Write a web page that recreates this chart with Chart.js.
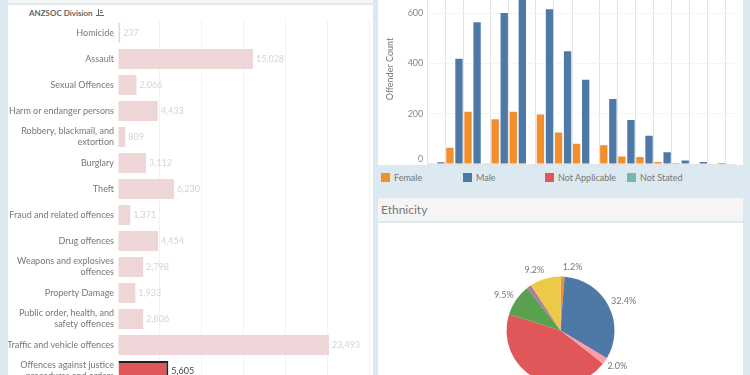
<!DOCTYPE html>
<html>
<head>
<meta charset="utf-8">
<script src="https://cdn.jsdelivr.net/npm/chart.js@4"></script>
<style>
  html, body { margin: 0; width: 750px; height: 375px; overflow: hidden; background: #dde9f0; font-family: Lato, sans-serif; }
  .box { position: absolute; }
  canvas { position: absolute; display: block; }
  #strip { left: 8px; top: 0; width: 365px; height: 3px; background: #f5f5f5; }
  #leftPanel { left: 8px; top: 5px; width: 365px; height: 370px; background: #fff; }
  #rightPanel { left: 378px; top: 0; width: 365px; height: 165px; background: #fff; }
  #piePanel { left: 378px; top: 223px; width: 365px; height: 152px; background: #fff; }
  #pieHead { left: 378px; top: 198px; width: 365px; height: 23px; background: #f5f5f5; color: #777; font-size: 12px; line-height: 23px; text-indent: 3px; }
  #divTitle { left: 29px; top: 7px; font-size: 8px; font-weight: 700; color: #666; line-height: 13px; }
  #sortIcon { left: 96px; top: 9px; }
  .swatch { position: absolute; top: 173px; width: 9px; height: 9px; }
  .legendText { position: absolute; top: 170px; font-size: 9px; line-height: 15px; color: #777; }
</style>
</head>
<body>
<div class="box" id="strip"></div>
<div class="box" id="leftPanel"></div>
<div class="box" id="rightPanel"></div>
<div class="box" id="pieHead">Ethnicity</div>
<div class="box" id="piePanel"></div>
<div class="box" id="divTitle">ANZSOC Division</div>
<svg class="box" id="sortIcon" width="8" height="8"><path d="M2 0h1v7h-1zM4 1h2v1h-2zM4 3h3v1h-3zM0 6h8v1h-8z" fill="#666"/></svg>
<canvas id="divisions" width="365" height="364" style="left:8px;top:20px"></canvas>
<canvas id="offenders" width="365" height="191" style="left:378px;top:-26px"></canvas>
<canvas id="ethnicity" width="365" height="215" style="left:378px;top:223px"></canvas>
<div id="legend"></div>

<script>
const FONT = "Lato, sans-serif";

// ANZSOC divisions
const divisionLabels = [
  "Homicide", "Assault", "Sexual Offences", "Harm or endanger persons",
  ["Robbery, blackmail, and", "extortion"], "Burglary", "Theft",
  "Fraud and related offences", "Drug offences",
  ["Weapons and explosives", "offences"], "Property Damage",
  ["Public order, health, and", "safety offences"], "Traffic and vehicle offences",
  ["Offences against justice", "procedures and orders"]
];
const divisionValues = [237, 15028, 2066, 4433, 809, 3112, 6230, 1371, 4454, 2798, 1933, 2806, 23493, 5605];
const selectedDivision = 13;

// offender count, one bar slot each, slots grouped per pane
const slotGroups = [1,1, 2,2, 3,3,3, 4,4, 5,5,5, 6,6, 7,7, 8,8,8, 9,9, 10,10, 11,11, 12,12, 13,13, 14,14, 15,15, 16];
const femaleValues = [1,null, 65,null, 208,null,null, 178,null, 208,null,null, 197,null, 125,null, 80,null,null, 75,null, 30,null, 28,null, 8,null, 4,null, 2,null, 0,null, 2];
const maleValues = [null,7, null,418, null,563,null, null,600, null,660,null, null,615, null,448, null,335,null, null,258, null,175, null,112, null,47, null,14, null,8, null,4, null];
const naValues = new Array(34).fill(null);
const notStatedValues = [null,null, null,null, null,null,1, null,null, null,null,null, null,null, null,null, null,null,null, null,null, null,null, null,null, null,null, null,null, null,null, null,null, null];
const seriesNames = ["Female", "Male", "Not Applicable", "Not Stated"];
const seriesColors = ["#f28e2b", "#4e79a7", "#e15759", "#76b7b2"];
const offenderTicks = [0, 200, 400, 600];

// ethnicity
const ethnicityNames = ["Other", "European", "Pacific", "Maori", "Asian", "Indian", "Unknown"];
const ethnicityValues = [1.2, 32.4, 2.0, 44.3, 9.5, 1.4, 9.2];
const ethnicityLabels = ["1.2%", "32.4%", "2.0%", "44.3%", "9.5%", "", "9.2%"];
const ethnicityColors = ["#f28e2b", "#4e79a7", "#ff9da7", "#e15759", "#59a14f", "#b07aa1", "#edc948"];

// numbers to the right of the bars
const barValues = {
  id: "barValues",
  afterDatasetsDraw(chart) {
    const ctx = chart.ctx;
    ctx.save();
    ctx.font = "9px " + FONT;
    ctx.textBaseline = "middle";
    chart.getDatasetMeta(0).data.forEach((bar, i) => {
      ctx.fillStyle = i === selectedDivision ? "#444" : "#d4d4d4";
      ctx.fillText(divisionValues[i].toLocaleString("en-US"), bar.x + 3, bar.y);
    });
    ctx.restore();
  }
};

// percent labels round the pie
const pieLabels = {
  id: "pieLabels",
  afterDatasetsDraw(chart) {
    const ctx = chart.ctx;
    ctx.save();
    ctx.font = "9px " + FONT;
    ctx.fillStyle = "#777";
    ctx.textBaseline = "middle";
    chart.getDatasetMeta(0).data.forEach((arc, i) => {
      const mid = (arc.startAngle + arc.endAngle) / 2;
      const dx = Math.cos(mid), dy = Math.sin(mid);
      ctx.textAlign = dx < 0 ? "right" : "left";
      ctx.fillText(ethnicityLabels[i], arc.x + dx * (arc.outerRadius + 3), arc.y + dy * (arc.outerRadius + 9));
    });
    ctx.restore();
  }
};

// labels may not eat into the plot height, the rows have a fixed pitch
function noPadding(s) {
  s.paddingTop = 0;
  s.paddingBottom = 0;
  s.paddingLeft = 0;
  s.paddingRight = 0;
}

new Chart(document.getElementById("divisions"), {
  type: "bar",
  data: {
    labels: divisionLabels,
    datasets: [{
      data: divisionValues,
      backgroundColor: divisionValues.map((_, i) => i === selectedDivision ? "#e15759" : "#eed6d8"),
      borderColor: divisionValues.map((_, i) => i === selectedDivision ? "#222" : "transparent"),
      borderWidth: divisionValues.map((_, i) => i === selectedDivision ? 2 : 0),
      barPercentage: 0.77,
      categoryPercentage: 1
    }]
  },
  plugins: [barValues],
  options: {
    indexAxis: "y",
    responsive: false,
    animation: false,
    layout: { padding: { right: 3.6 } },
    plugins: { legend: { display: false }, tooltip: { enabled: false } },
    scales: {
      x: {
        min: 0, max: 28000,
        afterFit: noPadding,
        ticks: { display: false, stepSize: 5000 },
        grid: { color: c => c.tick && c.tick.value === 0 ? "transparent" : "#f3f3f3", drawTicks: false },
        border: { display: false }
      },
      y: {
        afterFit: s => { noPadding(s); s.width = 110; },
        ticks: { autoSkip: false, padding: 4, color: "#777", font: { family: FONT, size: 9, lineHeight: 1.22 } },
        grid: { display: false, drawTicks: false },
        border: { display: false }
      }
    }
  }
});

new Chart(document.getElementById("offenders"), {
  type: "bar",
  data: {
    labels: slotGroups,
    datasets: [femaleValues, maleValues, naValues, notStatedValues].map((vals, i) => ({
      label: seriesNames[i],
      data: vals,
      backgroundColor: seriesColors[i],
      barPercentage: 0.81,
      categoryPercentage: 1
    }))
  },
  options: {
    responsive: false,
    animation: false,
    layout: { padding: { right: 8, bottom: 1 } },
    plugins: { legend: { display: false }, tooltip: { enabled: false } },
    scales: {
      x: {
        stacked: true,
        afterFit: noPadding,
        ticks: { display: false, autoSkip: false },
        // pane dividers only where the group changes
        grid: {
          offset: true,
          drawTicks: false,
          color: c => (c.index === 0 || c.index === slotGroups.length || slotGroups[c.index] !== slotGroups[c.index - 1]) ? "#e3e3e3" : "transparent"
        },
        border: { color: "#e3e3e3" }
      },
      y: {
        stacked: true,
        min: 0, max: 755,
        afterFit: s => { noPadding(s); s.width = 49.3; },
        afterBuildTicks: s => { s.ticks = offenderTicks.map(v => ({ value: v })); },
        title: { display: true, text: "Offender Count", color: "#777", font: { family: FONT, size: 9 }, padding: { top: 7, bottom: 0 } },
        ticks: {
          padding: 4,
          color: "#888",
          font: { family: FONT, size: 9 },
          // zero sits a bit above the baseline
          callback: v => v === 0 ? ["0", ""] : String(v)
        },
        grid: { color: "#f5f5f5", drawTicks: false },
        border: { display: false }
      }
    }
  }
});

new Chart(document.getElementById("ethnicity"), {
  type: "pie",
  data: {
    labels: ethnicityNames,
    datasets: [{ data: ethnicityValues, backgroundColor: ethnicityColors, borderWidth: 0, radius: 54 }]
  },
  plugins: [pieLabels],
  options: {
    responsive: false,
    animation: false,
    plugins: { legend: { display: false }, tooltip: { enabled: false } }
  }
});

// legend under the bars
const legend = document.getElementById("legend");
seriesNames.forEach((name, i) => {
  const left = 381 + i * 82;
  const swatch = document.createElement("div");
  swatch.className = "swatch";
  swatch.style.left = left + "px";
  swatch.style.background = seriesColors[i];
  const text = document.createElement("div");
  text.className = "legendText";
  text.style.left = left + 13 + "px";
  text.textContent = name;
  legend.appendChild(swatch);
  legend.appendChild(text);
});
</script>
</body>
</html>
